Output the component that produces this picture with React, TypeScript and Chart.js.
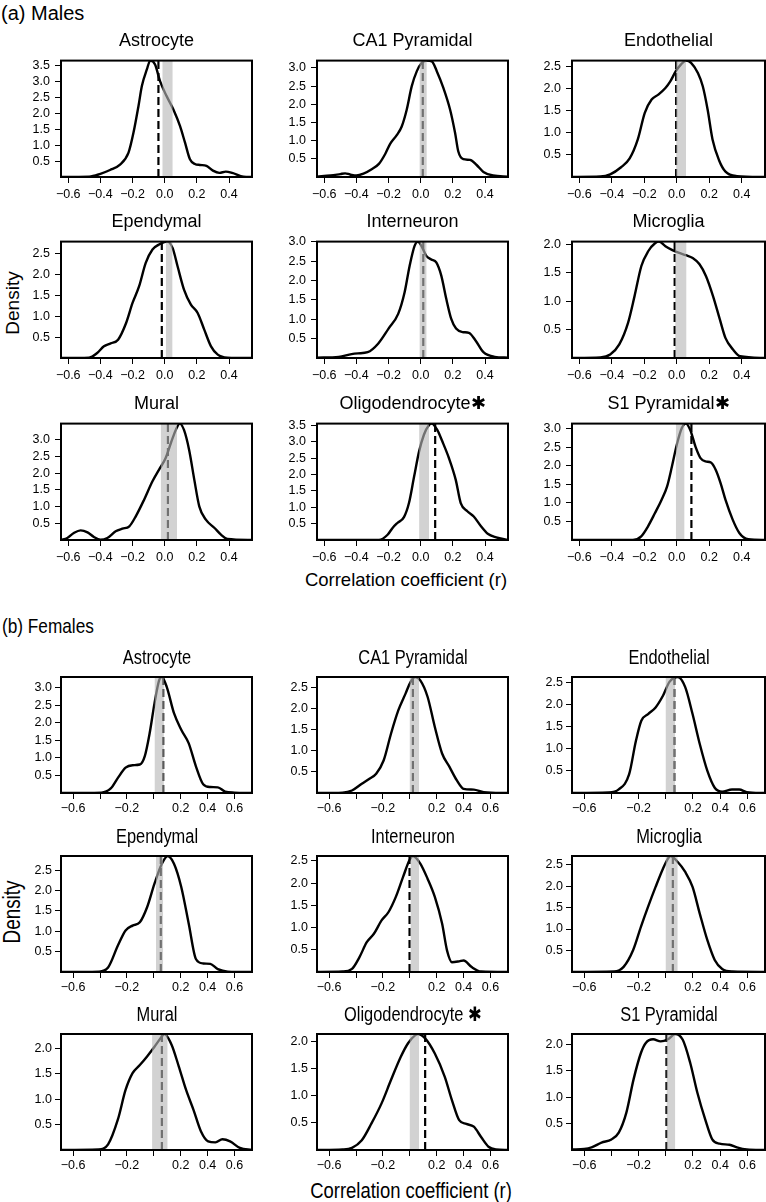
import React, { useEffect, useRef } from 'react';
import { Chart, registerables } from 'chart.js';

Chart.register(...registerables);

type Pt = [number, number];

// ---------------- Males: density curves [r, density] ----------------
const mAstrocyte: Pt[] = [[-0.645,0],[-0.47,0.01],[-0.40,0.1],[-0.34,0.22],[-0.28,0.38],[-0.225,0.77],[-0.194,1.40],[-0.163,2.24],[-0.142,2.87],[-0.111,3.39],[-0.09,3.67],[-0.06,3.55],[-0.029,3.02],[0.012,2.55],[0.054,2.13],[0.095,1.61],[0.126,1.09],[0.157,0.56],[0.188,0.41],[0.219,0.38],[0.26,0.35],[0.30,0.2],[0.34,0.13],[0.38,0.17],[0.42,0.13],[0.49,0.01],[0.543,0]];
const mCA1: Pt[] = [[-0.645,0.01],[-0.56,0.04],[-0.50,0.08],[-0.47,0.1],[-0.44,0.07],[-0.40,0.04],[-0.356,0.09],[-0.31,0.2],[-0.26,0.36],[-0.22,0.64],[-0.19,0.91],[-0.149,1.15],[-0.118,1.39],[-0.087,1.85],[-0.056,2.49],[-0.024,2.91],[0.007,3.14],[0.038,3.20],[0.069,3.18],[0.10,2.91],[0.141,2.45],[0.183,1.85],[0.214,1.21],[0.234,0.70],[0.265,0.49],[0.307,0.47],[0.348,0.33],[0.39,0.14],[0.45,0.04],[0.543,0.01]];
const mEndothelial: Pt[] = [[-0.645,0],[-0.47,0.01],[-0.41,0.06],[-0.343,0.22],[-0.29,0.42],[-0.24,0.85],[-0.197,1.45],[-0.155,1.75],[-0.114,1.86],[-0.07,2.01],[-0.04,2.16],[-0.006,2.39],[0.025,2.54],[0.057,2.63],[0.088,2.58],[0.13,2.35],[0.16,2.05],[0.19,1.52],[0.22,0.85],[0.26,0.38],[0.30,0.12],[0.37,0.02],[0.543,0]];
const mEpendymal: Pt[] = [[-0.645,0],[-0.47,0.01],[-0.42,0.12],[-0.378,0.28],[-0.336,0.35],[-0.29,0.44],[-0.24,0.84],[-0.2,1.32],[-0.159,1.72],[-0.118,2.28],[-0.076,2.60],[-0.035,2.72],[-0.003,2.78],[0.017,2.79],[0.049,2.64],[0.08,2.2],[0.12,1.64],[0.163,1.28],[0.205,1.08],[0.246,0.68],[0.288,0.28],[0.33,0.08],[0.39,0.01],[0.543,0]];
const mInterneuron: Pt[] = [[-0.645,0.01],[-0.51,0.03],[-0.43,0.1],[-0.39,0.12],[-0.33,0.15],[-0.265,0.37],[-0.2,0.76],[-0.14,1.14],[-0.1,1.70],[-0.069,2.38],[-0.038,2.90],[-0.017,3.01],[0.004,2.90],[0.035,2.64],[0.066,2.55],[0.097,2.47],[0.128,2.13],[0.159,1.53],[0.19,1.01],[0.22,0.76],[0.26,0.67],[0.30,0.65],[0.34,0.46],[0.39,0.15],[0.46,0.03],[0.543,0.01]];
const mMicroglia: Pt[] = [[-0.645,0],[-0.47,0.01],[-0.41,0.06],[-0.354,0.24],[-0.30,0.62],[-0.26,1.09],[-0.218,1.62],[-0.176,1.88],[-0.134,2.02],[-0.11,2.05],[-0.07,1.97],[-0.027,1.90],[0.015,1.85],[0.056,1.81],[0.098,1.76],[0.14,1.65],[0.18,1.44],[0.223,1.09],[0.265,0.68],[0.30,0.35],[0.346,0.15],[0.39,0.03],[0.543,0]];
const mMural: Pt[] = [[-0.645,0],[-0.606,0.06],[-0.565,0.21],[-0.523,0.29],[-0.48,0.23],[-0.44,0.09],[-0.40,0.01],[-0.357,0.06],[-0.305,0.26],[-0.263,0.34],[-0.22,0.41],[-0.18,0.71],[-0.128,1.21],[-0.076,1.76],[-0.035,2.11],[0.006,2.46],[0.038,2.9],[0.069,3.3],[0.094,3.49],[0.12,3.30],[0.152,2.7],[0.184,1.81],[0.215,1.01],[0.256,0.61],[0.31,0.36],[0.35,0.16],[0.39,0.03],[0.543,0]];
const mOligodendrocyte: Pt[] = [[-0.645,0],[-0.26,0],[-0.206,0.16],[-0.175,0.37],[-0.145,0.52],[-0.104,0.70],[-0.073,1.13],[-0.041,1.94],[-0.01,2.71],[0.02,3.22],[0.052,3.52],[0.068,3.56],[0.103,3.37],[0.135,3.01],[0.176,2.50],[0.218,1.84],[0.249,1.13],[0.29,0.88],[0.33,0.72],[0.375,0.42],[0.417,0.19],[0.47,0.08],[0.543,0]];
const mS1Pyramidal: Pt[] = [[-0.645,0],[-0.27,0],[-0.219,0.10],[-0.177,0.37],[-0.135,0.72],[-0.094,1.08],[-0.06,1.44],[-0.03,1.98],[0.0,2.57],[0.031,3.02],[0.056,3.14],[0.083,2.97],[0.115,2.52],[0.146,2.21],[0.177,2.12],[0.21,2.09],[0.24,1.89],[0.27,1.53],[0.30,1.08],[0.344,0.55],[0.385,0.19],[0.44,0.02],[0.543,0]];

const maleCurves: Pt[][] = [mAstrocyte, mCA1, mEndothelial, mEpendymal, mInterneuron, mMicroglia, mMural, mOligodendrocyte, mS1Pyramidal];
const maleTitles = ['Astrocyte', 'CA1 Pyramidal', 'Endothelial', 'Ependymal', 'Interneuron', 'Microglia', 'Mural', 'Oligodendrocyte\u2731', 'S1 Pyramidal\u2731'];
const maleBands: Pt[] = [[-0.015,0.05],[-0.008,0.038],[-0.004,0.057],[0.007,0.049],[-0.008,0.037],[-0.01,0.06],[-0.025,0.077],[-0.01,0.052],[-0.006,0.048]];
const maleDashes = [-0.039, 0.013, -0.004, -0.018, 0.016, -0.013, 0.02, 0.09, 0.09];

// ---------------- Females ----------------
const fAstrocyte: Pt[] = [[-0.69,0],[-0.39,0.01],[-0.32,0.13],[-0.267,0.43],[-0.21,0.72],[-0.158,0.79],[-0.104,0.81],[-0.067,1.05],[-0.031,1.70],[0.005,2.55],[0.04,3.21],[0.059,3.30],[0.096,3.02],[0.15,2.27],[0.204,1.80],[0.259,1.42],[0.313,0.76],[0.367,0.25],[0.42,0.17],[0.476,0.16],[0.53,0.04],[0.60,0.01],[0.73,0]];
const fCA1: Pt[] = [[-0.69,0],[-0.50,0.01],[-0.43,0.06],[-0.357,0.22],[-0.30,0.34],[-0.25,0.46],[-0.194,0.78],[-0.14,1.41],[-0.085,1.97],[-0.031,2.37],[0.005,2.64],[0.041,2.76],[0.078,2.68],[0.132,2.29],[0.186,1.57],[0.24,0.94],[0.295,0.62],[0.35,0.30],[0.40,0.10],[0.476,0.08],[0.55,0.02],[0.73,0]];
const fEndothelial: Pt[] = [[-0.69,0],[-0.42,0.01],[-0.346,0.08],[-0.27,0.42],[-0.22,1.18],[-0.18,1.64],[-0.13,1.79],[-0.075,1.94],[-0.02,2.21],[0.027,2.52],[0.088,2.63],[0.143,2.40],[0.197,1.79],[0.25,1.11],[0.306,0.50],[0.36,0.12],[0.415,0.03],[0.487,0.08],[0.54,0.08],[0.596,0.02],[0.73,0]];
const fEpendymal: Pt[] = [[-0.69,0],[-0.41,0.01],[-0.34,0.11],[-0.267,0.65],[-0.21,1.02],[-0.158,1.14],[-0.104,1.22],[-0.05,1.59],[0.005,2.17],[0.06,2.66],[0.103,2.85],[0.15,2.66],[0.204,2.09],[0.26,1.18],[0.313,0.32],[0.367,0.21],[0.42,0.20],[0.476,0.07],[0.55,0.01],[0.73,0]];
const fInterneuron: Pt[] = [[-0.69,0],[-0.50,0.01],[-0.43,0.07],[-0.375,0.33],[-0.32,0.67],[-0.267,0.86],[-0.21,1.16],[-0.158,1.35],[-0.104,1.69],[-0.05,2.14],[-0.002,2.52],[0.023,2.61],[0.078,2.44],[0.132,2.10],[0.186,1.69],[0.24,1.09],[0.277,0.48],[0.313,0.22],[0.367,0.24],[0.40,0.26],[0.46,0.11],[0.53,0.01],[0.73,0]];
const fMicroglia: Pt[] = [[-0.69,0],[-0.38,0.01],[-0.31,0.12],[-0.24,0.51],[-0.183,1.05],[-0.13,1.52],[-0.075,1.98],[-0.02,2.41],[0.016,2.64],[0.034,2.70],[0.088,2.56],[0.143,2.33],[0.197,1.98],[0.25,1.36],[0.306,0.74],[0.36,0.28],[0.415,0.07],[0.49,0.01],[0.73,0]];
const fMural: Pt[] = [[-0.69,0],[-0.41,0.01],[-0.34,0.11],[-0.267,0.60],[-0.21,1.18],[-0.158,1.51],[-0.104,1.67],[-0.05,1.84],[0.005,2.03],[0.06,2.23],[0.078,2.28],[0.132,2.07],[0.186,1.64],[0.24,1.18],[0.295,0.79],[0.35,0.37],[0.404,0.17],[0.458,0.15],[0.51,0.21],[0.567,0.17],[0.64,0.04],[0.73,0]];
const fOligodendrocyte: Pt[] = [[-0.69,0],[-0.50,0.01],[-0.43,0.04],[-0.357,0.18],[-0.285,0.49],[-0.21,0.86],[-0.14,1.29],[-0.067,1.72],[-0.013,1.97],[0.041,2.12],[0.06,2.14],[0.114,2.06],[0.186,1.78],[0.26,1.35],[0.313,0.92],[0.367,0.55],[0.42,0.48],[0.476,0.43],[0.53,0.24],[0.585,0.06],[0.64,0.01],[0.73,0]];
const fS1Pyramidal: Pt[] = [[-0.69,0.01],[-0.60,0.02],[-0.546,0.05],[-0.473,0.14],[-0.40,0.2],[-0.346,0.33],[-0.29,0.71],[-0.237,1.34],[-0.183,1.84],[-0.147,2.03],[-0.093,2.10],[-0.038,2.06],[0.016,2.10],[0.07,2.2],[0.125,2.09],[0.18,1.65],[0.233,1.08],[0.29,0.58],[0.342,0.20],[0.396,0.12],[0.469,0.10],[0.523,0.05],[0.596,0.01],[0.73,0]];

const femaleCurves: Pt[][] = [fAstrocyte, fCA1, fEndothelial, fEpendymal, fInterneuron, fMicroglia, fMural, fOligodendrocyte, fS1Pyramidal];
const femaleTitles = ['Astrocyte', 'CA1 Pyramidal', 'Endothelial', 'Ependymal', 'Interneuron', 'Microglia', 'Mural', 'Oligodendrocyte \u2731', 'S1 Pyramidal'];
const femaleBands: Pt[] = [[0.005,0.075],[-0.002,0.07],[-0.002,0.07],[0.016,0.07],[0.005,0.07],[-0.002,0.088],[-0.013,0.103],[-0.002,0.07],[0.005,0.07]];
const femaleDashes = [0.07, 0.023, 0.063, 0.052, -0.002, 0.052, 0.06, 0.114, 0.005];

// ---------------- Axes ----------------
const maleXTicks = [-0.6, -0.4, -0.2, 0, 0.2, 0.4];
const maleXLabels = ['\u22120.6', '\u22120.4', '\u22120.2', '0.0', '0.2', '0.4'];
const maleXRange: Pt = [-0.645, 0.543];
const femaleXTicks = [-0.6, -0.4, -0.2, 0, 0.2, 0.4, 0.6];
const femaleXLabels = ['\u22120.6', '', '\u22120.2', '', '0.2', '0.4', '0.6'];
const femaleXRange: Pt = [-0.69, 0.73];
const yTickValues = [0.5, 1, 1.5, 2, 2.5, 3, 3.5];
const yTickLabels = ['0.5', '1.0', '1.5', '2.0', '2.5', '3.0', '3.5'];

// ---------------- Layout / style ----------------
const SANS = "'Liberation Sans', Arial, Helvetica, sans-serif";
const COL_LEFT = [61, 317, 572];
const BOX_W = [191, 191, 193];
const MALE_ROW_TOP = [61, 242, 424];
const FEMALE_ROW_TOP = [677, 856, 1034];
const BOX_H = 116;
const YW = 45;
const BAND_COLOR = 'rgba(183,183,183,0.62)';

type Style = { htmlTitle: boolean; titleSize: number; titlePad: number; tickSize: number; xPad: number; yPad: number; xh: number };
const MALE_STYLE: Style = { htmlTitle: false, titleSize: 18, titlePad: 9, tickSize: 12.5, xPad: 4, yPad: 5, xh: 26 };
const FEMALE_STYLE: Style = { htmlTitle: true, titleSize: 20, titlePad: 0, tickSize: 12.5, xPad: 2, yPad: 3, xh: 26 };
const FEMALE_SQUEEZE = 0.82;

const boxPlugin = {
  id: 'rbox',
  afterDraw(chart: any) {
    const { ctx, chartArea: a } = chart;
    ctx.save();
    ctx.strokeStyle = '#000';
    ctx.lineWidth = 2;
    ctx.strokeRect(a.left, a.top, a.right - a.left, a.bottom - a.top);
    ctx.restore();
  },
};

type PanelSpec = {
  left: number; top: number; w: number; h: number; padTop: number;
  boxLeft: number; boxTop: number; boxW: number;
  title: string; curve: Pt[]; band: Pt; dash: number;
  xRange: Pt; xTicks: number[]; xLabels: string[]; style: Style;
};

function makeConfig(p: PanelSpec): any {
  const ymax = Math.max(...p.curve.map((d) => d[1]));
  const yt = yTickValues.filter((v) => v <= ymax + 1e-9);
  const s = p.style;
  const tickFont = { family: SANS, size: s.tickSize };
  return {
    type: 'line',
    data: {
      datasets: [
        {
          data: [{ x: p.band[0], y: ymax }, { x: p.band[1], y: ymax }],
          fill: 'origin', backgroundColor: BAND_COLOR, borderWidth: 0, borderColor: 'rgba(0,0,0,0)', pointRadius: 0,
        },
        {
          data: [{ x: p.dash, y: 0 }, { x: p.dash, y: ymax }],
          borderColor: '#000', borderWidth: 2.2, borderDash: [8, 4], pointRadius: 0, fill: false,
        },
        {
          data: p.curve.map(([x, y]) => ({ x, y })),
          borderColor: '#000', borderWidth: 2.4, pointRadius: 0, fill: false, cubicInterpolationMode: 'monotone',
        },
      ],
    },
    options: {
      responsive: false, animation: false, devicePixelRatio: 1,
      layout: { padding: { left: 0, right: 2, top: p.padTop, bottom: 0 } },
      plugins: {
        legend: { display: false }, tooltip: { enabled: false },
        title: {
          display: !s.htmlTitle, fullSize: false, text: p.title, color: '#000',
          font: { family: SANS, size: s.titleSize, weight: 'normal', lineHeight: 1.2 },
          padding: { top: 0, bottom: s.titlePad },
        },
      },
      scales: {
        x: {
          type: 'linear', min: p.xRange[0], max: p.xRange[1],
          afterFit: (sc: any) => { sc.height = s.xh; },
          afterBuildTicks: (sc: any) => { sc.ticks = p.xTicks.map((v) => ({ value: v })); },
          ticks: {
            autoSkip: false, maxRotation: 0, minRotation: 0, padding: s.xPad, color: '#000', font: tickFont,
            callback: (v: number) => {
              const i = p.xTicks.findIndex((t) => Math.abs(t - v) < 1e-9);
              return i >= 0 ? p.xLabels[i] : '';
            },
          },
          grid: { display: true, drawOnChartArea: false, drawTicks: true, tickLength: 6, color: '#000', lineWidth: 1 },
          border: { display: false },
        },
        y: {
          type: 'linear', min: 0, max: ymax,
          afterFit: (sc: any) => { sc.width = YW; },
          afterBuildTicks: (sc: any) => { sc.ticks = yt.map((v) => ({ value: v })); },
          ticks: {
            autoSkip: false, padding: s.yPad, color: '#000', font: tickFont,
            callback: (v: number) => {
              const i = yTickValues.findIndex((t) => Math.abs(t - v) < 1e-9);
              return i >= 0 ? yTickLabels[i] : '';
            },
          },
          grid: { display: true, drawOnChartArea: false, drawTicks: true, tickLength: 6, color: '#000', lineWidth: 1 },
          border: { display: false },
        },
      },
    },
    plugins: [boxPlugin],
  };
}

function Panel({ spec }: { spec: PanelSpec }) {
  const ref = useRef<HTMLCanvasElement>(null);
  useEffect(() => {
    const chart = new Chart(ref.current as HTMLCanvasElement, makeConfig(spec));
    return () => chart.destroy();
  }, []);
  return (
    <>
      <canvas
        ref={ref}
        width={spec.w}
        height={spec.h}
        style={{ position: 'absolute', left: spec.left, top: spec.top, width: spec.w, height: spec.h }}
      />
      {spec.style.htmlTitle && (
        <Label text={spec.title} x={spec.boxLeft + spec.boxW / 2} y={spec.boxTop - 20} size={spec.style.titleSize} squeeze={FEMALE_SQUEEZE} />
      )}
    </>
  );
}

function buildSpecs(rowTops: number[], curves: Pt[][], titles: string[], bands: Pt[], dashes: number[],
  xRange: Pt, xTicks: number[], xLabels: string[], style: Style): PanelSpec[] {
  const th = style.htmlTitle ? 12 : Math.round(style.titleSize * 1.2 + style.titlePad);
  const padTop = style.htmlTitle ? 12 : 0;
  const out: PanelSpec[] = [];
  for (let i = 0; i < curves.length; i++) {
    const r = Math.floor(i / 3);
    const c = i % 3;
    out.push({
      left: COL_LEFT[c] - YW,
      top: rowTops[r] - th,
      w: YW + BOX_W[c] + 2,
      h: th + BOX_H + style.xh,
      padTop,
      boxLeft: COL_LEFT[c], boxTop: rowTops[r], boxW: BOX_W[c],
      title: titles[i], curve: curves[i], band: bands[i], dash: dashes[i],
      xRange, xTicks, xLabels, style,
    });
  }
  return out;
}

const maleSpecs = buildSpecs(MALE_ROW_TOP, maleCurves, maleTitles, maleBands, maleDashes, maleXRange, maleXTicks, maleXLabels, MALE_STYLE);
const femaleSpecs = buildSpecs(FEMALE_ROW_TOP, femaleCurves, femaleTitles, femaleBands, femaleDashes, femaleXRange, femaleXTicks, femaleXLabels, FEMALE_STYLE);

function Label({ text, x, y, size, rotate, anchor, squeeze }: { text: string; x: number; y: number; size: number; rotate?: boolean; anchor?: 'left' | 'center'; squeeze?: number }) {
  const tx = anchor === 'left' ? '0' : '-50%';
  const sq = squeeze ? ` scaleX(${squeeze})` : '';
  return (
    <div
      style={{
        position: 'absolute', left: x, top: y, fontFamily: SANS, fontSize: size, lineHeight: 1,
        whiteSpace: 'nowrap', color: '#000',
        transform: `translate(${tx}, -50%)${rotate ? ' rotate(-90deg)' : ''}${sq}`,
        transformOrigin: anchor === 'left' ? 'left center' : 'center center',
      }}
    >
      {text}
    </div>
  );
}

export default function App() {
  return (
    <div style={{ position: 'absolute', left: 0, top: 0, width: 766, height: 1202, background: '#fff', overflow: 'hidden' }}>
      <Label text="(a) Males" x={1} y={13} size={20} anchor="left" />
      <Label text="Density" x={12} y={303} size={19} rotate />
      <Label text="Correlation coefficient (r)" x={406} y={580} size={18.5} />
      {maleSpecs.map((s, i) => <Panel key={'m' + i} spec={s} />)}
      <Label text="(b) Females" x={2} y={625} size={21} anchor="left" squeeze={FEMALE_SQUEEZE} />
      <Label text="Density" x={12} y={912} size={23} rotate squeeze={FEMALE_SQUEEZE} />
      <Label text="Correlation coefficient (r)" x={411} y={1191} size={22.5} squeeze={FEMALE_SQUEEZE} />
      {femaleSpecs.map((s, i) => <Panel key={'f' + i} spec={s} />)}
    </div>
  );
}
